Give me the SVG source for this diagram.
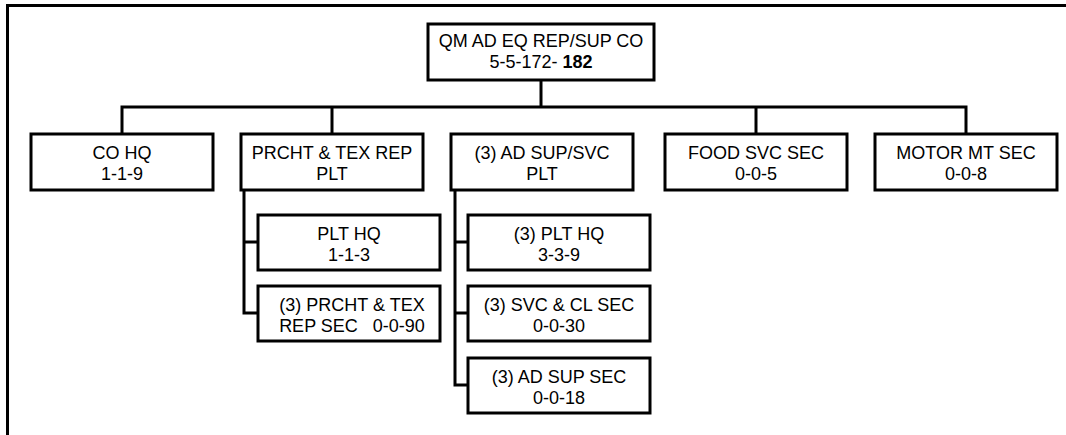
<svg xmlns="http://www.w3.org/2000/svg" width="1066" height="435" viewBox="0 0 1066 435">
<style>
.box{fill:#fff;stroke:#000;stroke-width:3}
.ln{fill:none;stroke:#000;stroke-width:3}
text{font-family:"Liberation Sans",Arial,sans-serif;font-size:18px;text-anchor:middle;fill:#000}
</style>
<rect width="1066" height="435" fill="#fff"/>
<path class="ln" d="M7.5,435 V5.5 H1066"/>
<g id="connectors">
<path class="ln" d="M541,80 V107"/>
<path class="ln" d="M122,134 V107 H966 V134"/>
<path class="ln" d="M332,107 V134"/>
<path class="ln" d="M756,107 V134"/>
<path class="ln" d="M244,190 V313 H258"/>
<path class="ln" d="M244,242 H258"/>
<path class="ln" d="M455,190 V385 H468"/>
<path class="ln" d="M455,242 H468"/>
<path class="ln" d="M455,313 H468"/>
</g>
<g id="top">
<rect class="box" x="428" y="24" width="226" height="56"/>
<text x="541" y="47">QM AD EQ REP/SUP CO</text>
<text x="541" y="68">5-5-172- <tspan font-weight="bold">182</tspan></text>
</g>
<g id="cohq">
<rect class="box" x="31" y="134" width="182" height="56"/>
<text x="122" y="159">CO HQ</text>
<text x="122" y="180">1-1-9</text>
</g>
<g id="prcht">
<rect class="box" x="241" y="134" width="182" height="56"/>
<text x="332" y="159">PRCHT &amp; TEX REP</text>
<text x="332" y="180">PLT</text>
</g>
<g id="adsup">
<rect class="box" x="451" y="134" width="182" height="56"/>
<text x="542" y="159">(3) AD SUP/SVC</text>
<text x="542" y="180">PLT</text>
</g>
<g id="food">
<rect class="box" x="665" y="134" width="182" height="56"/>
<text x="756" y="159">FOOD SVC SEC</text>
<text x="756" y="180">0-0-5</text>
</g>
<g id="motor">
<rect class="box" x="875" y="134" width="182" height="56"/>
<text x="966" y="159">MOTOR MT SEC</text>
<text x="966" y="180">0-0-8</text>
</g>
<g id="plthq">
<rect class="box" x="258" y="215" width="182" height="55"/>
<text x="349" y="240">PLT HQ</text>
<text x="349" y="261">1-1-3</text>
</g>
<g id="prchtsec">
<rect class="box" x="258" y="286" width="182" height="55"/>
<text x="352" y="311">(3) PRCHT &amp; TEX</text>
<text x="352" y="332" xml:space="preserve">REP SEC   0-0-90</text>
</g>
<g id="plthq3">
<rect class="box" x="468" y="215" width="182" height="55"/>
<text x="559" y="240">(3) PLT HQ</text>
<text x="559" y="261">3-3-9</text>
</g>
<g id="svccl">
<rect class="box" x="468" y="286" width="182" height="55"/>
<text x="559" y="311">(3) SVC &amp; CL SEC</text>
<text x="559" y="332">0-0-30</text>
</g>
<g id="adsupsec">
<rect class="box" x="468" y="358" width="182" height="55"/>
<text x="559" y="383">(3) AD SUP SEC</text>
<text x="559" y="404">0-0-18</text>
</g>
</svg>
